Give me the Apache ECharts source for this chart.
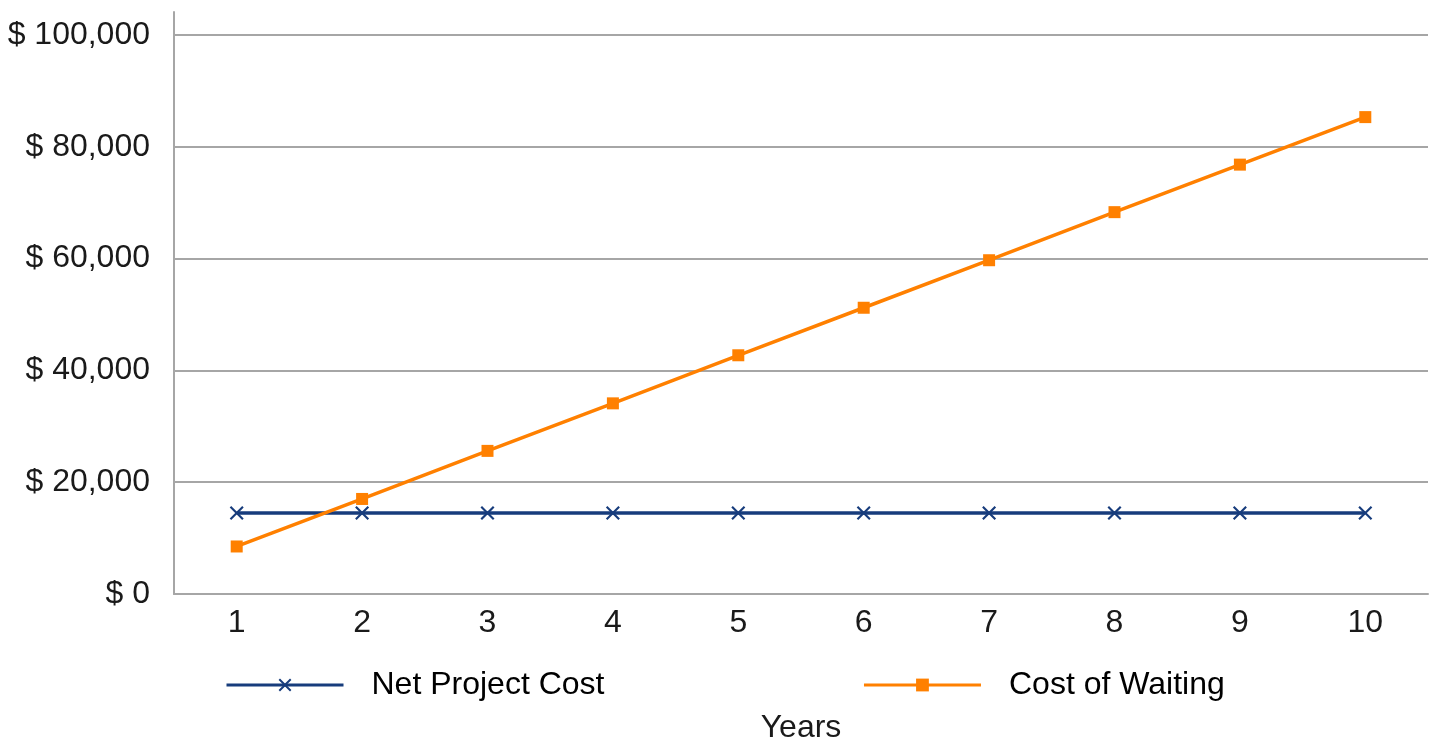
<!DOCTYPE html>
<html>
<head>
<meta charset="utf-8">
<script src="https://cdn.jsdelivr.net/npm/echarts@6/dist/echarts.min.js"></script>
<style>html,body{margin:0;padding:0;background:#fff}#c{width:1432px;height:745px}</style>
</head>
<body>
<div id="c"></div>
<script>
const years = ['1','2','3','4','5','6','7','8','9','10'];
const netProjectCost = [14500,14500,14500,14500,14500,14500,14500,14500,14500,14500];
const costOfWaiting = [8500,17000,25600,34100,42700,51200,59700,68300,76800,85300];
const yTicks = [0,20000,40000,60000,80000,100000];

const FONT = 'Liberation Sans, Arial, sans-serif';
const FS = 32;
const crossPath = 'path://M0,1.4L1.4,0L6.5,5.1L11.6,0L13,1.4L7.9,6.5L13,11.6L11.6,13L6.5,7.9L1.4,13L0,11.6L5.1,6.5Z';
const chart = echarts.init(document.getElementById('c'));
chart.setOption({
  animation: false,
  backgroundColor: '#fff',
  textStyle: {fontFamily: FONT},
  grid: {left: 174, right: 4, top: 12, bottom: 151, containLabel: false, outerBoundsMode: 'none'},
  legend: {
    left: 225, top: 669, padding: 0,
    itemWidth: 117, itemHeight: 16, itemGap: 258,
    lineStyle: {width: 3},
    textStyle: {fontSize: FS, color: '#000', fontFamily: FONT, padding: [0,0,0,23]},
    data: ['Net Project Cost', 'Cost of Waiting']
  },
  xAxis: [{
    type: 'category', data: years, boundaryGap: true, position: 'bottom',
    name: 'Years', nameLocation: 'middle', nameGap: 118,
    nameTextStyle: {fontSize: FS, color: '#1a1a1a', fontFamily: FONT},
    axisLine: {lineStyle: {color: '#a6a6a6', width: 2}},
    axisTick: {alignWithLabel: true, length: 8, lineStyle: {color: '#a6a6a6', width: 2}},
    axisLabel: {fontSize: FS, color: '#1a1a1a', margin: 13, fontFamily: FONT},
    splitLine: {show: false}
  }, {
    type: 'category', data: years, boundaryGap: true, position: 'bottom', offset: 0,
    axisLine: {show: false},
    axisTick: {inside: true, alignWithLabel: true, length: 8, lineStyle: {color: '#a6a6a6', width: 2}},
    axisLabel: {show: false},
    splitLine: {show: false}
  }],
  yAxis: {
    type: 'value', min: 0, max: 104100, interval: 20000,
    axisLine: {show: true, lineStyle: {color: '#a6a6a6', width: 2}},
    axisTick: {show: false},
    axisLabel: {
      fontSize: FS, color: '#1a1a1a', margin: 24, fontFamily: FONT, showMaxLabel: false,
      formatter: v => yTicks.indexOf(v) >= 0 ? '$ ' + v.toLocaleString('en-US') : ''
    },
    splitLine: {show: true, showMaxLine: false, lineStyle: {color: '#a6a6a6', width: 2}}
  },
  series: [{
    name: 'Net Project Cost', type: 'line', data: netProjectCost, xAxisIndex: 0,
    symbol: crossPath, symbolSize: 14, showAllSymbol: true,
    lineStyle: {color: '#173c7c', width: 3.5},
    itemStyle: {color: '#173c7c'}
  }, {
    name: 'Cost of Waiting', type: 'line', data: costOfWaiting, xAxisIndex: 0,
    symbol: 'rect', symbolSize: 12, showAllSymbol: true,
    lineStyle: {color: '#ff8000', width: 3.5},
    itemStyle: {color: '#ff8000'}
  }]
});
</script>
</body>
</html>
